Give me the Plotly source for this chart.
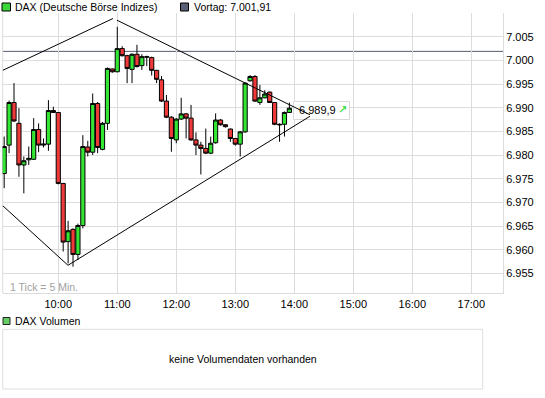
import plotly.graph_objects as go
import pandas as pd

W, H = 545, 398

# ---------------- data ----------------
times = pd.date_range("2013-01-02 09:05", periods=59, freq="5min")

opens = [6976.1, 6982.1, 6991.1, 6986.7, 6977.9, 6979.0, 6979.1, 6985.4, 6982.1, 6982.3,
         6989.4, 6989.0, 6974.0, 6961.7, 6964.3, 6959.0, 6965.1, 6981.7, 6980.6, 6990.9,
         6981.2, 6986.7, 6998.2, 6997.6, 7002.5, 7001.0, 6998.1, 7001.3, 6998.9, 7000.8,
         7000.6, 6997.9, 6995.9, 6991.4, 6988.0, 6983.2, 6987.6, 6988.7, 6987.8, 6983.2,
         6982.1, 6981.4, 6980.4, 6982.6, 6987.4, 6986.4, 6985.5, 6983.5, 6982.3, 6984.9,
         6995.7, 6996.6, 6991.1, 6992.1, 6993.3, 6991.1, 6986.5, 6986.5, 6989.0]
highs = [6983.9, 6991.5, 6995.2, 6989.9, 6979.7, 6981.8, 6987.8, 6986.7, 6983.5, 6991.6,
         6990.2, 6989.1, 6974.1, 6966.1, 6964.5, 6965.5, 6984.2, 6983.0, 6993.0, 6991.2,
         6987.0, 6998.5, 6998.3, 7007.1, 7003.0, 7001.2, 7001.5, 7003.3, 7001.3, 7001.0,
         7000.8, 6998.0, 6996.7, 6992.7, 6988.2, 6987.8, 6992.1, 6988.9, 6990.6, 6984.8,
         6982.8, 6985.6, 6983.9, 6988.8, 6987.6, 6986.5, 6985.6, 6983.6, 6985.1, 6995.4,
         6996.9, 6996.9, 6994.8, 6993.7, 6993.4, 6991.2, 6986.7, 6989.2, 6991.1]
lows = [6973.0, 6980.4, 6987.0, 6975.4, 6971.9, 6977.9, 6979.0, 6980.6, 6981.6, 6980.9,
        6988.9, 6973.8, 6959.6, 6957.1, 6956.4, 6957.8, 6964.5, 6979.7, 6980.0, 6980.4,
        6981.0, 6985.3, 6997.4, 6997.5, 7000.8, 6995.2, 6995.2, 6998.5, 6998.0, 6998.8,
        6996.8, 6995.2, 6991.2, 6987.8, 6980.7, 6982.5, 6987.4, 6983.5, 6983.0, 6980.0,
        6975.9, 6980.2, 6980.2, 6982.4, 6986.2, 6985.8, 6982.8, 6982.0, 6979.7, 6984.7,
        6995.5, 6991.2, 6990.6, 6992.0, 6991.0, 6986.3, 6982.8, 6983.9, 6988.9]
closes = [6981.8, 6991.1, 6987.2, 6977.9, 6978.8, 6979.3, 6985.4, 6982.1, 6982.3, 6989.4,
          6989.0, 6974.0, 6961.6, 6964.0, 6959.0, 6965.1, 6981.8, 6980.6, 6990.9, 6981.6,
          6986.7, 6998.3, 6997.6, 7002.5, 7001.0, 6998.3, 7001.3, 6998.7, 7000.8, 7000.7,
          6997.9, 6996.0, 6991.4, 6988.0, 6983.5, 6987.6, 6988.7, 6987.8, 6983.2, 6982.1,
          6981.4, 6980.4, 6982.5, 6987.4, 6986.4, 6986.0, 6983.5, 6982.3, 6984.9, 6995.2,
          6996.6, 6991.4, 6992.1, 6992.9, 6991.1, 6986.5, 6986.4, 6989.0, 6989.9]

prev_close = 7001.91
last_price = 6989.9
last_price_text = "6.989,9"
prev_close_text = "Vortag: 7.001,91"
title_text = "DAX (Deutsche Börse Indizes)"
volume_title = "DAX Volumen"
volume_message = "keine Volumendaten vorhanden"
tick_note = "1 Tick = 5 Min."

y_tickvals = [6955, 6960, 6965, 6970, 6975, 6980, 6985, 6990, 6995, 7000, 7005]
y_ticktext = ["6.955", "6.960", "6.965", "6.970", "6.975", "6.980", "6.985",
              "6.990", "6.995", "7.000", "7.005"]

x_range = ["2013-01-02 09:03:30", "2013-01-02 17:32:12"]
y_range = [6950.78, 7010.02]

trend_ul_t = ["2013-01-02 09:03:30", "2013-01-02 10:55:36"]
trend_ul_v = [6997.9, 7008.85]
trend_ur_t = ["2013-01-02 10:59:42", "2013-01-02 14:16:00"]
trend_ur_v = [7008.5, 6988.5]
trend_lo_t = ["2013-01-02 09:03:30", "2013-01-02 10:09:54", "2013-01-02 14:16:00"]
trend_lo_v = [6969.3, 6956.7, 6988.2]

# ---------------- helpers ----------------
PL, PR, PT, PB = 2.7, 503.0, 13.0, 293.3   # plot area in pixels


def px(x):
    return x / W


def py(y):
    return 1 - y / H


FONT = "Liberation Sans, Arial, sans-serif"
GRID = "#dcdcdc"

fig = go.Figure()

fig.add_trace(go.Candlestick(
    x=times, open=opens, high=highs, low=lows, close=closes,
    increasing=dict(fillcolor="#33e633", line=dict(color="black", width=1)),
    decreasing=dict(fillcolor="#f03a3a", line=dict(color="black", width=1)),
    whiskerwidth=0, showlegend=False, hoverinfo="skip",
))

# white label box for the last price (hides grid, lines drawn above it)
t0 = pd.Timestamp(x_range[0])
t1 = pd.Timestamp(x_range[1])
span = t1 - t0


def px_to_time(x):
    return t0 + span * ((x - PL) / (PR - PL))


def py_to_val(y):
    return y_range[0] + (y_range[1] - y_range[0]) * (PB - y) / (PB - PT)


bx = [px_to_time(v) for v in (293.5, 349.5, 349.5, 293.5, 293.5)]
by = [py_to_val(v) for v in (101.5, 101.5, 119.5, 119.5, 101.5)]
fig.add_trace(go.Scatter(x=bx, y=by, mode="lines", fill="toself",
                         fillcolor="white", line=dict(color="#d8d8d8", width=1),
                         showlegend=False, hoverinfo="skip"))

for tt, vv in [(trend_ul_t, trend_ul_v), (trend_ur_t, trend_ur_v), (trend_lo_t, trend_lo_v)]:
    fig.add_trace(go.Scatter(x=tt, y=vv, mode="lines",
                             line=dict(color="black", width=1),
                             showlegend=False, hoverinfo="skip"))

shapes = []
shapes.append(dict(type="line", xref="x domain", yref="y", x0=0, x1=1,
                   y0=prev_close, y1=prev_close, layer="below",
                   line=dict(color="#555c70", width=1)))
shapes.append(dict(type="line", xref="x domain", yref="y domain", x0=0, x1=0,
                   y0=0, y1=1, layer="below", line=dict(color=GRID, width=1)))
shapes.append(dict(type="rect", xref="paper", yref="paper",
                   x0=px(2), x1=px(10.5), y0=py(11), y1=py(3),
                   fillcolor="#3ad63a", line=dict(color="black", width=1)))
shapes.append(dict(type="rect", xref="paper", yref="paper",
                   x0=px(180.5), x1=px(188.5), y0=py(11), y1=py(3),
                   fillcolor="#5a5f75", line=dict(color="black", width=1)))
shapes.append(dict(type="rect", xref="paper", yref="paper",
                   x0=px(3), x1=px(10), y0=py(324.5), y1=py(317.5),
                   fillcolor="#66cc66", line=dict(color="#222222", width=1)))
shapes.append(dict(type="rect", xref="paper", yref="paper",
                   x0=px(2.7), x1=px(482.7), y0=py(389), y1=py(329.3),
                   line=dict(color="#dddddd", width=1), fillcolor="rgba(0,0,0,0)"))

TF = 10.5
annotations = [
    dict(text=title_text, xref="paper", yref="paper", x=px(13), y=py(7),
         xanchor="left", yanchor="middle", showarrow=False,
         font=dict(family=FONT, size=TF, color="black")),
    dict(text=prev_close_text, xref="paper", yref="paper", x=px(191.5), y=py(7),
         xanchor="left", yanchor="middle", showarrow=False,
         font=dict(family=FONT, size=TF, color="black")),
    dict(text=volume_title, xref="paper", yref="paper", x=px(13), y=py(321),
         xanchor="left", yanchor="middle", showarrow=False,
         font=dict(family=FONT, size=TF, color="black")),
    dict(text=volume_message, xref="paper", yref="paper", x=px(242.7), y=py(358.5),
         xanchor="center", yanchor="middle", showarrow=False,
         font=dict(family=FONT, size=TF, color="black")),
    dict(text=tick_note, xref="paper", yref="paper", x=px(7.5), y=py(286.5),
         xanchor="left", yanchor="middle", showarrow=False,
         font=dict(family=FONT, size=TF, color="#a0a0a0")),
    dict(text=last_price_text, xref="paper", yref="paper", x=px(296.5), y=py(110.5),
         xanchor="left", yanchor="middle", showarrow=False,
         font=dict(family=FONT, size=TF + 0.5, color="black")),
    dict(text="↗", xref="paper", yref="paper", x=px(335.5), y=py(110),
         xanchor="left", yanchor="middle", showarrow=False,
         font=dict(family="DejaVu Sans", size=11, color="#22dd22")),
]

fig.update_layout(
    width=W, height=H,
    margin=dict(l=0, r=0, t=0, b=0),
    paper_bgcolor="white", plot_bgcolor="white",
    showlegend=False,
    boxgap=0.15, boxgroupgap=0,
    shapes=shapes, annotations=annotations,
    font=dict(family=FONT, size=11, color="black"),
    xaxis=dict(
        type="date", domain=[px(PL), px(PR)], range=x_range,
        tick0="2013-01-02 10:00", dtick=3600000, tickformat="%H:%M",
        showgrid=True, gridcolor=GRID, gridwidth=1, zeroline=False,
        showline=True, linecolor=GRID, linewidth=1, ticks="",
        rangeslider=dict(visible=False),
        tickfont=dict(family=FONT, size=11, color="black"),
    ),
    yaxis=dict(
        domain=[py(PB), py(PT)], range=y_range, side="right",
        tickvals=y_tickvals, ticktext=y_ticktext,
        showgrid=True, gridcolor=GRID, gridwidth=1, zeroline=False,
        showline=True, linecolor=GRID, linewidth=1, ticks="",
        tickfont=dict(family=FONT, size=11, color="black"),
    ),
)

fig.write_html("out.html", config={"displayModeBar": False},
               post_script="document.body.style.margin='0';")
